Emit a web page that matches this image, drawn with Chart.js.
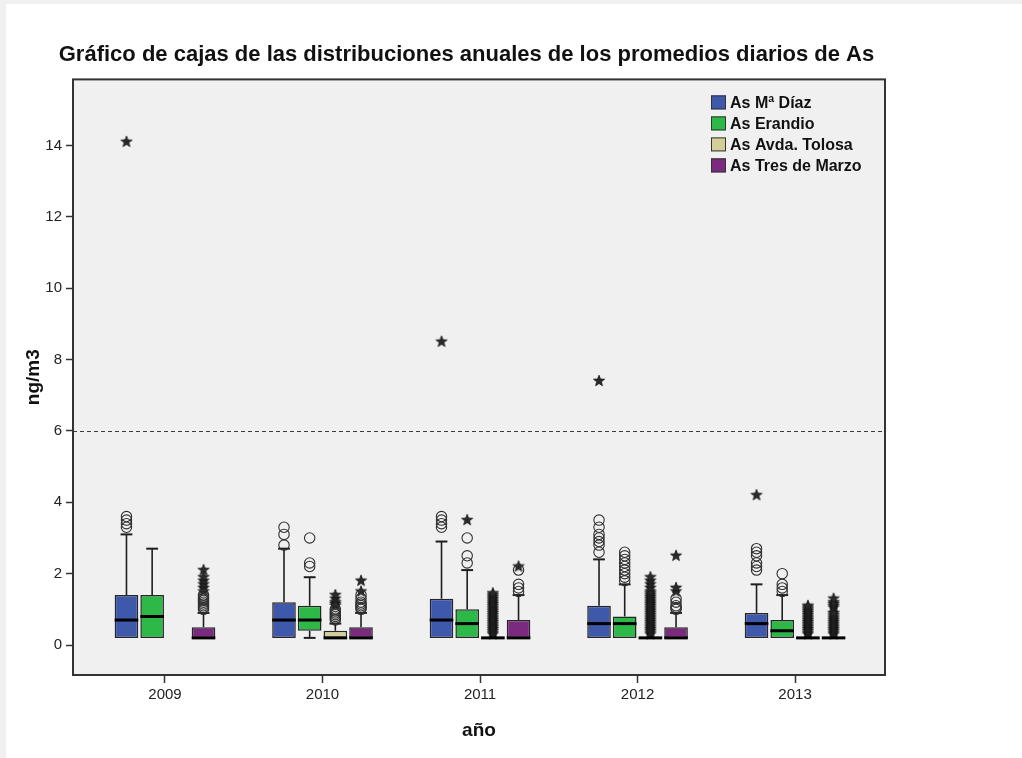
<!DOCTYPE html>
<html>
<head>
<meta charset="utf-8">
<title>Gráfico de cajas - As</title>
<script src="https://cdn.jsdelivr.net/npm/chart.js@4.4.1/dist/chart.umd.min.js"></script>
<style>
  html, body { margin: 0; padding: 0; background: #f0f0f0; }
  #panel { position: absolute; left: 6px; top: 4px; width: 1016px; height: 754px; background: #ffffff; }
  #wrap { position: absolute; left: 0; top: 0; width: 1022px; height: 758px; }
</style>
</head>
<body>
<div id="panel"></div>
<div id="wrap"><canvas id="chart" width="1022" height="758"></canvas></div>
<script>
// ---- data -------------------------------------------------------------
const years = [2009, 2010, 2011, 2012, 2013];
const stations = ['As Mª Díaz', 'As Erandio', 'As Avda. Tolosa', 'As Tres de Marzo'];
const stationColors = ['#3E58AC', '#2EB848', '#D3CE97', '#7B2A7F'];
const yTicks = [0, 2, 4, 6, 8, 10, 12, 14];
const limitValue = 6;

// yearly summaries: [lower whisker, Q1, median, Q3, upper whisker]
const diazBox    = [[0.2, 0.2, 0.7, 1.4, 3.1], [0.2, 0.2, 0.7, 1.2, 2.7], [0.2, 0.2, 0.7, 1.3, 2.9], [0.2, 0.2, 0.6, 1.1, 2.4], [0.2, 0.2, 0.6, 0.9, 1.7]];
const erandioBox = [[0.2, 0.2, 0.8, 1.4, 2.7], [0.2, 0.4, 0.7, 1.1, 1.9], [0.2, 0.2, 0.6, 1.0, 2.1], [0.2, 0.2, 0.6, 0.8, 1.7], [0.2, 0.2, 0.4, 0.7, 1.4]];
const tolosaBox  = [null, [0.2, 0.2, 0.2, 0.4, 0.6], [0.2, 0.2, 0.2, 0.2, 0.2], [0.2, 0.2, 0.2, 0.2, 0.2], [0.2, 0.2, 0.2, 0.2, 0.2]];
const marzoBox   = [[0.2, 0.2, 0.2, 0.5, 0.9], [0.2, 0.2, 0.2, 0.5, 0.9], [0.2, 0.2, 0.2, 0.7, 1.4], [0.2, 0.2, 0.2, 0.5, 0.9], [0.2, 0.2, 0.2, 0.2, 0.2]];

// outliers (circles) per year
const diazOut    = [[3.3, 3.4, 3.5, 3.6], [2.8, 3.1, 3.3], [3.3, 3.4, 3.5, 3.6], [2.6, 2.8, 2.9, 3.0, 3.1, 3.3, 3.5], [2.1, 2.2, 2.3, 2.5, 2.6, 2.7]];
const erandioOut = [[], [2.2, 2.3, 3.0], [2.3, 2.5, 3.0], [1.8, 1.9, 2.0, 2.1, 2.2, 2.3, 2.4, 2.5, 2.6], [1.5, 1.6, 1.7, 2.0]];
const tolosaOut  = [[], [0.7, 0.75, 0.8, 0.85, 0.9, 0.95, 1.0], [], [], []];
const marzoOut   = [[1.0, 1.05, 1.1, 1.15, 1.2, 1.25, 1.3, 1.35, 1.4], [1.0, 1.05, 1.1, 1.15, 1.2, 1.3, 1.4], [1.5, 1.6, 1.7, 2.1], [1.0, 1.05, 1.1, 1.2, 1.3], []];

// extreme values (stars) per year
const diazExt    = [[14.1], [], [8.5], [7.4], [4.2]];
const erandioExt = [[], [], [3.5], [], []];
const tolosaExt  = [
  [],
  [1.1, 1.15, 1.2, 1.3, 1.4],
  [0.3, 0.35, 0.4, 0.45, 0.5, 0.55, 0.6, 0.65, 0.7, 0.75, 0.8, 0.85, 0.9, 0.95, 1.0, 1.05, 1.1, 1.15, 1.2, 1.25, 1.3, 1.35, 1.4, 1.45],
  [0.3, 0.35, 0.4, 0.45, 0.5, 0.55, 0.6, 0.65, 0.7, 0.75, 0.8, 0.85, 0.9, 0.95, 1.0, 1.05, 1.1, 1.15, 1.2, 1.25, 1.3, 1.35, 1.4, 1.45, 1.5, 1.6, 1.7, 1.8, 1.9],
  [0.3, 0.35, 0.4, 0.45, 0.5, 0.55, 0.6, 0.65, 0.7, 0.75, 0.8, 0.85, 0.9, 0.95, 1.0, 1.05, 1.1]
];
const marzoExt   = [
  [1.5, 1.6, 1.7, 1.8, 1.9, 2.1],
  [1.5, 1.8],
  [2.2],
  [1.5, 1.6, 2.5],
  [0.3, 0.35, 0.4, 0.45, 0.5, 0.55, 0.6, 0.65, 0.7, 0.75, 0.8, 0.85, 0.9, 1.05, 1.1, 1.15, 1.2, 1.3]
];

// ---- chart ------------------------------------------------------------
const FONT = "'Liberation Sans', Arial, Helvetica, sans-serif";
const INK = '#1e1e1e';
const CAT_PCT = 0.652;
const BAR_PCT = 0.92;

const boxes = [diazBox, erandioBox, tolosaBox, marzoBox];
const outs = [diazOut, erandioOut, tolosaOut, marzoOut];
const exts = [diazExt, erandioExt, tolosaExt, marzoExt];

// slot offset (in x-axis units) of each station inside a year group
const slotOffset = s => (s - (stations.length - 1) / 2) * CAT_PCT / stations.length;

// small filled five-pointed star used for extreme values
function makeStar(r) {
  const c = document.createElement('canvas');
  const size = Math.ceil(r * 2 + 2);
  c.width = size; c.height = size;
  const g = c.getContext('2d');
  g.translate(size / 2, size / 2);
  g.beginPath();
  for (let k = 0; k < 10; k++) {
    const rad = k % 2 === 0 ? r : r * 0.42;
    const a = -Math.PI / 2 + k * Math.PI / 5;
    g.lineTo(rad * Math.cos(a), rad * Math.sin(a));
  }
  g.closePath();
  g.fillStyle = '#2a2a2a';
  g.fill();
  g.lineWidth = 0.8;
  g.strokeStyle = '#111';
  g.stroke();
  return c;
}
const starImg = makeStar(5.8);

const barSets = stations.map((name, s) => ({
  type: 'bar',
  label: name,
  data: years.map((yr, i) => ({ x: yr, y: boxes[s][i] ? [boxes[s][i][1], boxes[s][i][3]] : null })),
  backgroundColor: stationColors[s],
  borderColor: '#262626',
  borderWidth: 1.5,
  borderSkipped: false,
  categoryPercentage: CAT_PCT,
  barPercentage: BAR_PCT,
  order: 2
}));

const circlePoints = [];
const starPoints = [];
stations.forEach((name, s) => {
  years.forEach((yr, i) => {
    outs[s][i].forEach(v => circlePoints.push({ x: yr + slotOffset(s), y: v }));
    exts[s][i].forEach(v => starPoints.push({ x: yr + slotOffset(s), y: v }));
  });
});

const pointSets = [
  {
    type: 'scatter', label: 'atípicos', data: circlePoints,
    pointStyle: 'circle', pointRadius: 5.2, borderWidth: 1.1,
    borderColor: '#303030', backgroundColor: 'rgba(0,0,0,0)', order: 1
  },
  {
    type: 'scatter', label: 'extremos', data: starPoints,
    pointStyle: starImg, pointRadius: 6, order: 1
  }
];

const decor = {
  id: 'boxDecor',
  beforeDraw(chart) {
    const { ctx, chartArea: a } = chart;
    ctx.save();
    ctx.fillStyle = '#f0f0f0';
    ctx.fillRect(a.left, a.top, a.right - a.left, a.bottom - a.top);
    ctx.restore();
  },
  beforeDatasetsDraw(chart) {
    const { ctx, chartArea: a, scales: { y } } = chart;
    ctx.save();
    // reference line
    const ly = Math.round(y.getPixelForValue(limitValue)) + 0.5;
    ctx.strokeStyle = '#3a3a3a';
    ctx.lineWidth = 1;
    ctx.setLineDash([4, 3]);
    ctx.beginPath();
    ctx.moveTo(a.left, ly);
    ctx.lineTo(a.right, ly);
    ctx.stroke();
    ctx.setLineDash([]);
    // whiskers and caps
    ctx.strokeStyle = INK;
    stations.forEach((name, s) => {
      const meta = chart.getDatasetMeta(s);
      boxes[s].forEach((b, i) => {
        if (!b) return;
        const el = meta.data[i];
        const x = el.x, w = el.width;
        const pLo = y.getPixelForValue(b[0]), pQ1 = y.getPixelForValue(b[1]);
        const pQ3 = y.getPixelForValue(b[3]), pHi = y.getPixelForValue(b[4]);
        ctx.lineWidth = 1.6;
        if (b[4] > b[3]) {
          ctx.beginPath(); ctx.moveTo(x, pQ3); ctx.lineTo(x, pHi); ctx.stroke();
          ctx.lineWidth = 2;
          ctx.beginPath(); ctx.moveTo(x - w / 4, pHi); ctx.lineTo(x + w / 4, pHi); ctx.stroke();
        }
        ctx.lineWidth = 1.6;
        if (b[0] < b[1]) {
          ctx.beginPath(); ctx.moveTo(x, pQ1); ctx.lineTo(x, pLo); ctx.stroke();
          ctx.lineWidth = 2;
          ctx.beginPath(); ctx.moveTo(x - w / 4, pLo); ctx.lineTo(x + w / 4, pLo); ctx.stroke();
        }
      });
    });
    ctx.restore();
  },
  afterDatasetsDraw(chart) {
    const { ctx, chartArea: a, scales: { y } } = chart;
    ctx.save();
    // medians
    ctx.strokeStyle = '#000';
    ctx.lineWidth = 3;
    stations.forEach((name, s) => {
      const meta = chart.getDatasetMeta(s);
      boxes[s].forEach((b, i) => {
        if (!b) return;
        const el = meta.data[i];
        const py = y.getPixelForValue(b[2]);
        ctx.beginPath();
        ctx.moveTo(el.x - el.width / 2, py);
        ctx.lineTo(el.x + el.width / 2, py);
        ctx.stroke();
      });
    });
    // frame
    ctx.strokeStyle = '#333';
    ctx.lineWidth = 2;
    ctx.strokeRect(a.left, a.top, a.right - a.left, a.bottom - a.top);
    ctx.restore();
  },
  afterDraw(chart) {
    const { ctx, chartArea: a } = chart;
    ctx.save();
    const x0 = a.right - 174;
    const y0 = a.top + 23;
    ctx.font = 'bold 16px ' + FONT;
    ctx.textBaseline = 'middle';
    ctx.textAlign = 'left';
    stations.forEach((name, s) => {
      const cy = y0 + s * 21;
      ctx.fillStyle = stationColors[s];
      ctx.fillRect(x0, cy - 7, 15, 14);
      ctx.strokeStyle = '#333';
      ctx.lineWidth = 1;
      ctx.strokeRect(x0 + 0.5, cy - 6.5, 14, 13);
      ctx.fillStyle = '#111';
      ctx.fillText(name, x0 + 19, cy + 1);
    });
    ctx.restore();
  }
};

new Chart(document.getElementById('chart'), {
  type: 'bar',
  data: { datasets: [...barSets, ...pointSets] },
  options: {
    responsive: false,
    animation: false,
    events: [],
    layout: { padding: { top: 0, left: 0, right: 89, bottom: 0 } },
    plugins: {
      legend: { display: false },
      tooltip: { enabled: false },
      title: {
        display: true,
        text: 'Gráfico de cajas de las distribuciones anuales de los promedios diarios de As',
        color: '#111',
        font: { family: FONT, size: 22, weight: 'bold' },
        padding: { top: 42, bottom: 11 }
      }
    },
    scales: {
      x: {
        type: 'linear',
        offset: false,
        min: 2008.416,
        max: 2013.571,
        afterBuildTicks: s => { s.ticks = years.map(v => ({ value: v })); },
        afterFit: s => { s.height = 83; },
        ticks: {
          callback: v => String(v),
          color: '#222',
          font: { family: FONT, size: 15 },
          padding: 3,
          maxRotation: 0,
          autoSkip: false
        },
        grid: { display: true, offset: false, drawOnChartArea: false, drawTicks: true, tickLength: 8, tickColor: '#333', tickWidth: 1.5 },
        border: { display: false },
        title: {
          display: true, text: 'año', color: '#111',
          font: { family: FONT, size: 19, weight: 'bold' },
          padding: { top: 0, bottom: 16 }
        }
      },
      y: {
        type: 'linear',
        min: -0.84,
        max: 15.85,
        afterBuildTicks: s => { s.ticks = yTicks.map(v => ({ value: v })); },
        afterFit: s => { s.width = 73; },
        ticks: { color: '#222', font: { family: FONT, size: 15 }, padding: 4 },
        grid: { display: true, drawOnChartArea: false, drawTicks: true, tickLength: 7, tickColor: '#333', tickWidth: 1.5 },
        border: { display: false },
        title: {
          display: true, text: 'ng/m3', color: '#111',
          font: { family: FONT, size: 19, weight: 'bold' },
          padding: { top: 22, bottom: 0 }
        }
      },
      yR: {
        type: 'linear',
        position: 'right',
        display: true,
        afterFit: s => { s.width = 48; },
        ticks: { display: false },
        grid: { display: false },
        border: { display: false }
      }
    }
  },
  plugins: [decor]
});
</script>
</body>
</html>
